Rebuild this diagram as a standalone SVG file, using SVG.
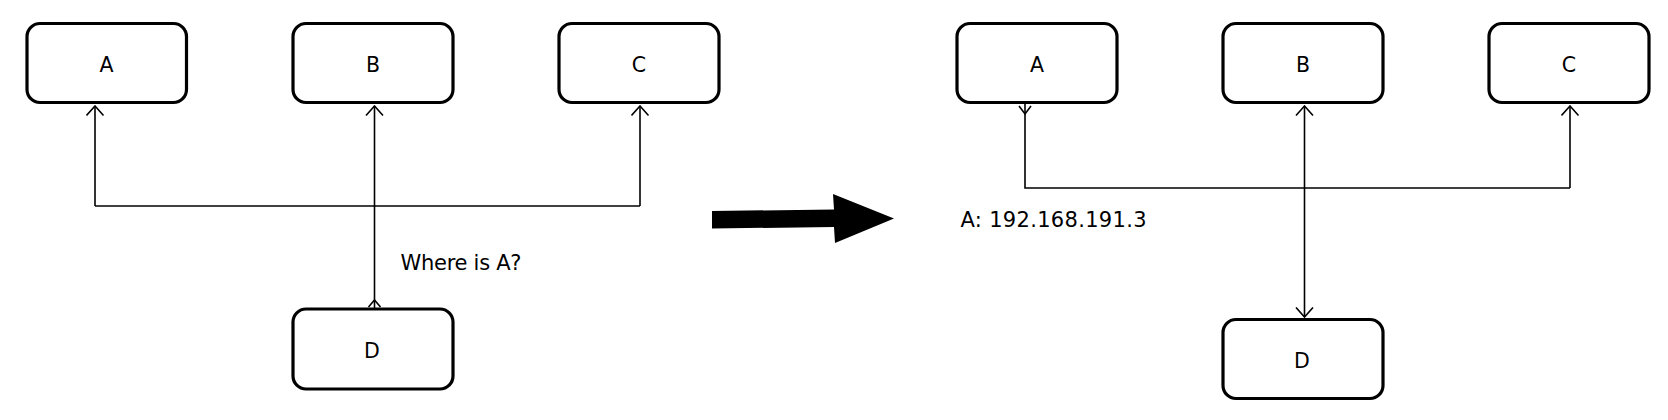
<svg xmlns="http://www.w3.org/2000/svg" width="1668" height="420" viewBox="0 0 1668 420">
<style>
.box{fill:#fff;stroke:#000;stroke-width:3.2}
.lbl{font-family:"DejaVu Sans",sans-serif;font-size:20.5px;fill:#000;text-anchor:middle}
.txt{font-family:"DejaVu Sans",sans-serif;font-size:21px;fill:#000}
.ln{fill:none;stroke:#000;stroke-width:1.6}
</style>
<defs>
<marker id="open" markerUnits="userSpaceOnUse" viewBox="-1 -1 12 20" refX="9.5" refY="8.5" markerWidth="12" markerHeight="20" orient="auto">
<path d="M0,0 L9.5,8.5 L0,17" fill="none" stroke="#000" stroke-width="1.6"/>
</marker>
</defs>
<rect width="1668" height="420" fill="#fff"/>
<g id="connectors">
<path class="ln" d="M95,206 H640"/>
<path class="ln" d="M95,206 V106" marker-end="url(#open)"/>
<path class="ln" d="M640,206 V106" marker-end="url(#open)"/>
<path class="ln" d="M374.5,308 V106" marker-end="url(#open)"/>
<path class="ln" d="M368.5,307 L374.5,300 L380.5,307"/>
<path class="ln" d="M1025,103 V188 H1570"/>
<path class="ln" d="M1570,188 V106" marker-end="url(#open)"/>
<path class="ln" d="M1019,106 L1025,114 L1031,106"/>
<path class="ln" d="M1304.5,200 V106" marker-end="url(#open)"/>
<path class="ln" d="M1304.5,200 V317" marker-end="url(#open)"/>
<polygon points="712,211 834,209.5 833,194 894,218.5 835,243 834,227 712,228.5" fill="#000"/>
</g>
<g id="nodeA"><rect class="box" x="27" y="23.5" width="159.5" height="79" rx="13"/><text class="lbl" x="106.5" y="71.5">A</text></g>
<g id="nodeB"><rect class="box" x="293" y="23.5" width="160" height="79" rx="13"/><text class="lbl" x="373" y="71.5">B</text></g>
<g id="nodeC"><rect class="box" x="559" y="23.5" width="160" height="79" rx="13"/><text class="lbl" x="639" y="71.5">C</text></g>
<g id="nodeD"><rect class="box" x="293" y="309" width="160" height="80" rx="13"/><text class="lbl" x="372" y="357.5">D</text></g>
<g id="label1"><text class="txt" x="400.5" y="270" textLength="121" lengthAdjust="spacing">Where is A?</text></g>
<g id="nodeA2"><rect class="box" x="957" y="23.5" width="160" height="79" rx="13"/><text class="lbl" x="1037" y="71.5">A</text></g>
<g id="nodeB2"><rect class="box" x="1223" y="23.5" width="160" height="79" rx="13"/><text class="lbl" x="1303" y="71.5">B</text></g>
<g id="nodeC2"><rect class="box" x="1489" y="23.5" width="160" height="79" rx="13"/><text class="lbl" x="1569" y="71.5">C</text></g>
<g id="nodeD2"><rect class="box" x="1223" y="319.5" width="160" height="79" rx="13"/><text class="lbl" x="1302" y="367.5">D</text></g>
<g id="label2"><text class="txt" x="960.5" y="226.5" textLength="186" lengthAdjust="spacing">A: 192.168.191.3</text></g>
</svg>
